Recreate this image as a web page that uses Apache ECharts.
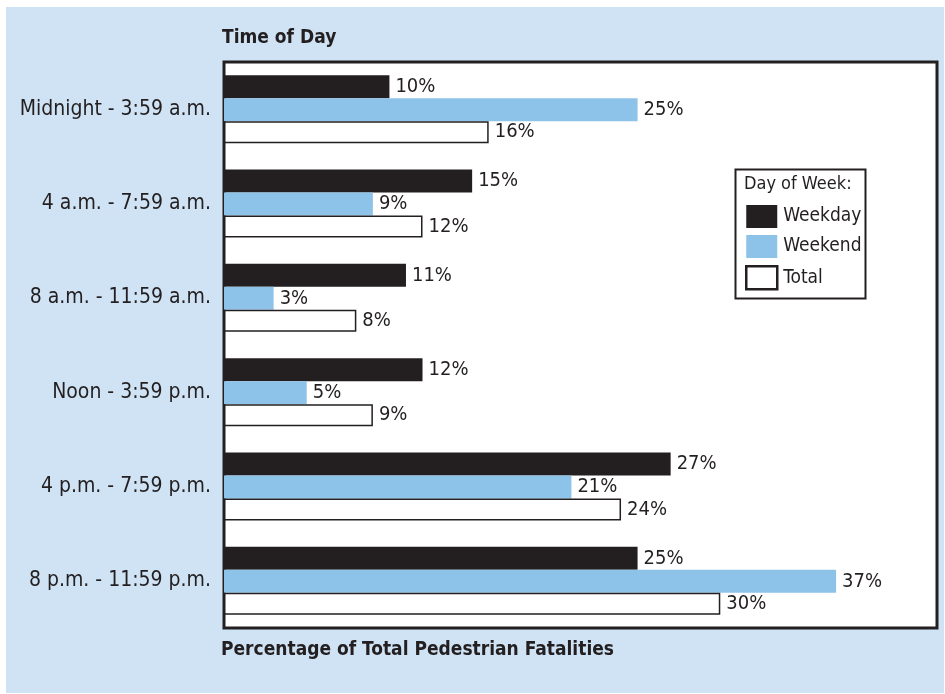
<!DOCTYPE html>
<html>
<head>
<meta charset="utf-8">
<script src="https://cdn.jsdelivr.net/npm/echarts@6/dist/echarts.min.js"></script>
<style>
html,body{margin:0;padding:0;background:#ffffff;}
#chart{width:945px;height:694px;}
</style>
</head>
<body>
<div id="chart"></div>
<script>
const categories = ["Midnight - 3:59 a.m.", "4 a.m. - 7:59 a.m.", "8 a.m. - 11:59 a.m.", "Noon - 3:59 p.m.", "4 p.m. - 7:59 p.m.", "8 p.m. - 11:59 p.m."];
const weekday = [10, 15, 11, 12, 27, 25];
const weekend = [25, 9, 3, 5, 21, 37];
const total = [16, 12, 8, 9, 24, 30];
const seriesNames = ["Weekday", "Weekend", "Total"];

const FONT = "'Liberation Sans Narrow', 'DejaVu Sans Condensed', 'Roboto', sans-serif";
const DARK = '#231f20';

const chart = echarts.init(document.getElementById('chart'));
const labelCfg = {
  show: true, position: 'right', distance: 6,
  formatter: p => p.value + '%',
  color: DARK, fontFamily: FONT, fontSize: 20
};
chart.setOption({
  animation: false,
  backgroundColor: '#ffffff',
  graphic: [
    { type: 'rect', z: -10, shape: { x: 6, y: 7, width: 938, height: 686 }, style: { fill: '#cfe3f4' } },
    { type: 'text', left: 222, top: 29, style: { text: 'Time of Day', font: "bold 19px " + FONT, fill: DARK } },
    { type: 'text', left: 221, top: 641, style: { text: 'Percentage of Total Pedestrian Fatalities', font: "bold 19px " + FONT, fill: DARK } },
    { type: 'rect', z: 10, shape: { x: 735.5, y: 169.5, width: 130, height: 129 }, style: { fill: '#ffffff', stroke: DARK, lineWidth: 2 } },
    { type: 'text', z: 11, left: 744, top: 175, style: { text: 'Day of Week:', font: "18px " + FONT, fill: DARK } }
  ],
  legend: {
    data: [
      { name: seriesNames[0], icon: 'rect' },
      { name: seriesNames[1], icon: 'rect' },
      { name: seriesNames[2], icon: 'rect', itemStyle: { color: '#ffffff', borderColor: DARK, borderWidth: 2.5 } }
    ],
    orient: 'vertical',
    left: 745, top: 205,
    itemWidth: 31, itemHeight: 23, itemGap: 7,
    padding: 0,
    z: 12,
    textStyle: { fontFamily: FONT, fontSize: 19, color: DARK, padding: [0, 0, 0, 1] },
    selectedMode: false
  },
  grid: {
    left: 224, top: 62, width: 713, height: 566,
    show: true, backgroundColor: '#ffffff', borderColor: DARK, borderWidth: 3,
    containLabel: false
  },
  xAxis: {
    type: 'value', min: 0, max: 43.1,
    axisLine: { show: false }, axisTick: { show: false }, axisLabel: { show: false }, splitLine: { show: false }
  },
  yAxis: {
    type: 'category', data: categories, inverse: true,
    axisLine: { show: false }, axisTick: { show: false },
    axisLabel: { fontFamily: FONT, fontSize: 21, color: DARK, margin: 13 }
  },
  series: [
    { name: seriesNames[0], type: 'bar', data: weekday, barWidth: 23, barGap: '0%', itemStyle: { color: DARK }, label: labelCfg },
    { name: seriesNames[1], type: 'bar', data: weekend, barWidth: 23, barGap: '0%', itemStyle: { color: '#8ec3e9' }, label: labelCfg },
    { name: seriesNames[2], type: 'bar', data: total, barWidth: 22, barGap: '0%', itemStyle: { color: '#ffffff', borderColor: DARK, borderWidth: 1.5 }, label: labelCfg }
  ]
});
</script>
</body>
</html>
